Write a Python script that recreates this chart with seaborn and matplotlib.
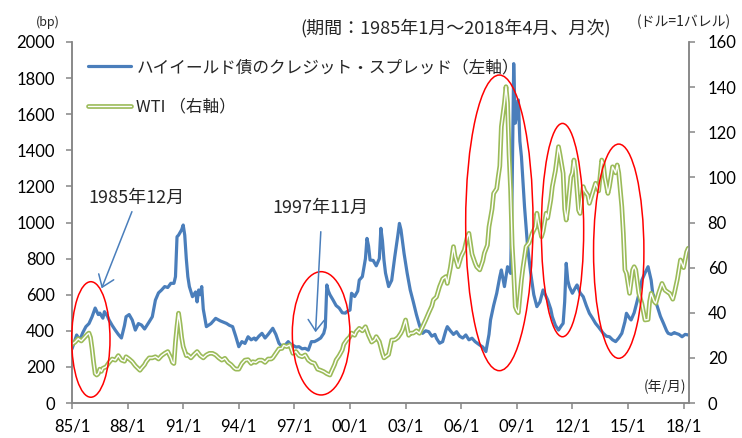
import pandas as pd
import seaborn as sns
import matplotlib.pyplot as plt
import matplotlib.patheffects as pe
from matplotlib.patches import Ellipse

# month index counted from 1985/1
spread_month = [0, 2, 3, 5, 7, 9, 11, 13, 15, 17, 18, 20, 21, 23, 24, 26, 28, 30, 32, 34,
                35, 37, 39, 41, 43, 45, 47, 48, 50, 52, 54, 56, 58, 60, 62, 64, 66, 67, 68, 69,
                71, 72, 73, 74, 75, 76, 78, 80, 81, 82, 83, 84, 85, 87, 90, 93, 96, 100, 102, 104,
                106, 108, 110, 112, 114, 116, 118, 119, 121, 123, 125, 127, 130, 132, 134, 136, 138, 140, 141, 143,
                145, 147, 149, 151, 153, 155, 157, 159, 161, 163, 164, 165, 166, 167, 169, 171, 173, 175, 177, 178,
                180, 181, 183, 185, 186, 188, 190, 191, 192, 193, 195, 197, 199, 200, 201, 202, 203, 205, 207, 209,
                211, 212, 213, 215, 217, 219, 221, 223, 225, 227, 229, 231, 233, 235, 236, 238, 240, 242, 243, 245,
                247, 249, 251, 253, 255, 257, 259, 261, 264, 266, 268, 270, 271, 273, 275, 277, 278, 280, 282, 284,
                285, 286, 287, 288, 289, 290, 291, 293, 295, 297, 299, 301, 303, 305, 307, 308, 310, 311, 313, 315,
                317, 318, 319, 320, 321, 322, 324, 326, 327, 329, 331, 333, 335, 337, 339, 341, 344, 346, 348, 350,
                352, 354, 356, 358, 359, 361, 362, 364, 365, 367, 369, 371, 373, 375, 376, 378, 379, 381, 383, 385,
                386, 388, 390, 391, 393, 395, 397, 399]
spread_bp = [300, 350, 377, 349, 390, 423, 440, 478, 526, 490, 498, 470, 506, 480, 460, 430, 404, 380, 360, 430,
             478, 490, 460, 404, 440, 432, 410, 423, 450, 478, 570, 610, 626, 645, 640, 663, 663, 700, 921, 930,
             960, 986, 930, 800, 700, 645, 589, 615, 560, 626, 600, 645, 520, 423, 440, 469, 455, 441, 430, 423,
             370, 312, 340, 330, 367, 350, 360, 349, 370, 386, 360, 380, 414, 380, 331, 312, 321, 340, 330, 320,
             310, 312, 300, 303, 293, 340, 340, 349, 360, 386, 420, 654, 620, 600, 571, 540, 526, 500, 498, 506,
             515, 608, 590, 620, 681, 700, 800, 912, 870, 792, 790, 760, 800, 968, 900, 792, 720, 645, 680, 811,
             930, 995, 960, 829, 720, 626, 560, 490, 430, 386, 400, 395, 370, 380, 358, 331, 340, 400, 423, 400,
             380, 395, 370, 360, 377, 350, 359, 340, 321, 310, 285, 380, 460, 540, 608, 700, 737, 645, 755, 718,
             1200, 1880, 1550, 1600, 1679, 1450, 1365, 1088, 866, 720, 600, 534, 560, 626, 590, 571, 520, 478, 430, 404,
             430, 441, 560, 774, 680, 645, 608, 640, 654, 610, 589, 540, 497, 470, 441, 420, 386, 370, 367, 350,
             340, 360, 386, 450, 497, 470, 460, 500, 534, 600, 681, 720, 755, 680, 608, 560, 534, 480, 441, 400,
             386, 380, 390, 386, 380, 367, 380, 377]

wti_month = [0, 2, 4, 6, 8, 10, 11, 12, 13, 14, 15, 16, 17, 18, 19, 20, 22, 24, 26, 28,
             30, 32, 34, 35, 37, 39, 41, 44, 45, 47, 48, 50, 52, 54, 56, 58, 60, 62, 64, 65,
             66, 67, 68, 69, 70, 71, 72, 74, 75, 77, 79, 81, 83, 85, 87, 89, 91, 93, 95, 97,
             99, 101, 103, 105, 106, 108, 110, 112, 114, 116, 117, 119, 121, 123, 125, 127, 129, 130, 132, 134,
             136, 137, 139, 141, 143, 145, 147, 149, 151, 153, 155, 157, 159, 161, 163, 165, 167, 168, 170, 171,
             173, 175, 176, 178, 180, 181, 183, 184, 186, 188, 190, 192, 194, 196, 197, 199, 201, 202, 203, 205,
             207, 209, 211, 213, 214, 216, 218, 219, 221, 223, 225, 227, 229, 231, 233, 234, 236, 238, 240, 242,
             243, 245, 247, 248, 250, 252, 254, 256, 257, 259, 261, 262, 264, 266, 267, 269, 270, 272, 273, 275,
             276, 277, 278, 280, 281, 282, 283, 284, 285, 286, 287, 288, 289, 291, 292, 294, 296, 298, 300, 301,
             302, 304, 305, 307, 308, 310, 311, 313, 315, 316, 318, 319, 320, 321, 323, 324, 325, 326, 328, 329,
             331, 332, 334, 335, 337, 339, 341, 343, 344, 345, 347, 348, 350, 352, 353, 354, 356, 357, 358, 359,
             361, 363, 364, 365, 367, 369, 371, 373, 374, 375, 377, 378, 380, 382, 384, 386, 387, 389, 390, 392,
             394, 396, 398, 399]
wti_usd = [26, 27, 28.5, 27.5, 29, 30.5, 31, 29, 24, 18, 13, 12.4, 13, 15, 14, 15.4, 16, 18, 19.5, 19,
           21, 19, 18.5, 20.5, 19.5, 18.3, 16.5, 14.5, 15.4, 17, 18.3, 20, 20, 20.5, 19.5, 21, 22, 22.8, 20, 18,
           17.5, 27, 34, 39.8, 35, 29, 25, 21, 21.3, 20, 21.5, 22.8, 21, 20, 21.3, 22, 22, 21.3, 20, 19,
           19.8, 18, 17, 15.5, 15, 15, 17.5, 19, 19.2, 17.5, 18.3, 18, 19, 19, 18, 19.5, 19.5, 20, 22, 24,
           24.2, 25.5, 25, 25.7, 22, 22.8, 21, 20.5, 21.3, 19, 18, 17.6, 15, 14.5, 13.9, 13, 12.4, 14, 17, 19,
           21, 23.5, 26, 28, 29.4, 31, 30, 31.6, 33.1, 32, 33.8, 30, 27, 28, 29.4, 27.2, 22, 20, 20.5, 21.5,
           27.9, 28, 29, 31, 32.4, 36.8, 30, 30.9, 31, 32, 30.9, 33.8, 36.8, 40, 43, 45.7, 47, 51.6, 55, 56,
           53, 60, 69.3, 65, 60.4, 65, 67.8, 73.7, 75.2, 66, 62, 60.4, 59, 63, 66.4, 70, 78.1, 86, 92.9, 95,
           100.3, 105, 122.5, 133, 140.2, 133, 110, 94.4, 70, 57.5, 42.7, 41, 40, 54.5, 60, 69.3, 71, 75.2, 78, 84.1,
           80, 73.7, 76, 84.1, 82, 90, 95.9, 103, 113.6, 110, 101.8, 86, 81.1, 86, 100.3, 102, 107.7, 103, 85.5, 84,
           95.9, 94, 92, 88.5, 93, 97.4, 94, 107.7, 106, 100, 92.9, 96, 104.7, 102, 105.5, 102, 87, 75, 59, 57.5,
           48.6, 59, 60.4, 59, 48.6, 44, 36.8, 37, 45, 48.6, 45, 44.2, 49, 53, 50, 49, 48.6, 46, 48.6, 55,
           63.4, 60, 67, 68.6]

tick_months = [0, 36, 72, 108, 144, 180, 216, 252, 288, 324, 360, 396]
tick_labels = ['85/1', '88/1', '91/1', '94/1', '97/1', '00/1', '03/1', '06/1', '09/1', '12/1', '15/1', '18/1']
series_labels = ['ハイイールド債のクレジット・スプレッド（左軸）', 'WTI （右軸）']

blue = '#4A7EBB'
green = '#9BBB59'
grey = '#868686'
jp = ['Noto Sans CJK JP', 'DejaVu Sans']

sns.set_theme(style='ticks')
plt.rcParams['font.family'] = ['Lato', 'Noto Sans CJK JP', 'DejaVu Sans']

spread = pd.DataFrame({'month': spread_month, 'bp': spread_bp})
wti = pd.DataFrame({'month': wti_month, 'usd': wti_usd})

fig = plt.figure(figsize=(7.42, 4.38), dpi=100)
ax = fig.add_axes([72 / 742, 35 / 438, 617 / 742, 361 / 438])
ax2 = ax.twinx()

sns.lineplot(data=spread, x='month', y='bp', ax=ax, color=blue, lw=2.3, legend=False)
sns.lineplot(data=wti, x='month', y='usd', ax=ax2, color='white', lw=1.0, legend=False,
             path_effects=[pe.Stroke(linewidth=3.4, foreground=green), pe.Normal()])

ax.set_xlim(0, 399.5)
ax.set_ylim(0, 2000)
ax2.set_ylim(0, 160)
ax.set_yticks(range(0, 2001, 200))
ax2.set_yticks(range(0, 161, 20))
ax.set_xticks(tick_months, tick_labels)
for a in (ax, ax2):
    a.set_xlabel('')
    a.set_ylabel('')
    a.spines['top'].set_visible(False)
    for s in ('left', 'right', 'bottom'):
        a.spines[s].set_color(grey)
        a.spines[s].set_linewidth(1.1)
    a.tick_params(length=4.5, width=1.1, color=grey, labelsize=12, labelcolor='black')
ax.tick_params(axis='y', pad=8)
ax.tick_params(axis='x', pad=7)
ax2.tick_params(axis='y', pad=9)

# red circles around the spread / oil episodes
for cx, cy, w, h in [(12.2, 352, 24.8, 640), (161.3, 386, 37.3, 683), (276.7, 998, 43.6, 1638),
                     (317.6, 958, 27.4, 1182), (354.0, 841, 32.6, 1187)]:
    ax2.add_patch(Ellipse((cx, cy), w, h, transform=ax.transData, fill=False,
                          ec='red', lw=1.1, zorder=5, clip_on=False))

# arrows with dates
arrow = dict(arrowstyle='->,head_length=0.8,head_width=0.58', mutation_scale=10,
             color=blue, lw=1.1, shrinkA=0, shrinkB=0)
ax2.annotate('', xy=(19.2, 635), xytext=(38.8, 1060), xycoords=ax.transData,
             textcoords=ax.transData, arrowprops=arrow, zorder=6)
ax2.annotate('', xy=(157.7, 392), xytext=(161.1, 949), xycoords=ax.transData,
             textcoords=ax.transData, arrowprops=arrow, zorder=6)
ax2.text(41.4, 1138, '1985年12月', transform=ax.transData, ha='center', va='center',
         fontsize=13, family=jp)
ax2.text(161.1, 1083, '1997年11月', transform=ax.transData, ha='center', va='center',
         fontsize=13, family=jp)

ax2.legend([ax.lines[0], ax2.lines[0]], series_labels, loc='upper left',
           bbox_to_anchor=(88 / 742, 1 - 59 / 438), bbox_transform=fig.transFigure,
           frameon=False, prop={'family': jp, 'size': 12}, handlelength=2.6,
           handletextpad=0.3, labelspacing=1.35, borderpad=0, borderaxespad=0)

fig.text(48 / 742, 1 - 22 / 438, '(bp)', ha='center', va='center', fontsize=9, family=jp)
fig.text(684 / 742, 1 - 22 / 438, '(ドル=1バレル)', ha='center', va='center', fontsize=10, family=jp)
fig.text(456 / 742, 1 - 28 / 438, '(期間：1985年1月～2018年4月、月次)', ha='center', va='center',
         fontsize=13, family=jp)
fig.text(665 / 742, 1 - 387 / 438, '(年/月)', ha='center', va='center', fontsize=10, family=jp)

fig.savefig('out.png', dpi=100)
